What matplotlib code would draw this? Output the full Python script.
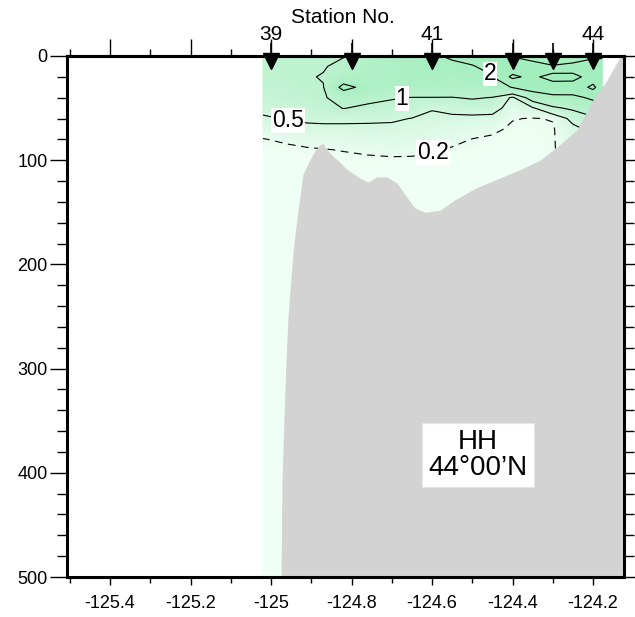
import numpy as np
import matplotlib
matplotlib.use("Agg")
import matplotlib.pyplot as plt
from matplotlib.colors import LinearSegmentedColormap
from matplotlib.ticker import FixedLocator, MultipleLocator

plt.rcParams['font.family'] = ['Liberation Sans', 'DejaVu Sans']

# ---------------- data ----------------
lon_grid = [-125.02, -124.96, -124.91, -124.87, -124.82, -124.76, -124.70, -124.65,
            -124.60, -124.55, -124.50, -124.45, -124.40, -124.35, -124.30, -124.25,
            -124.20, -124.177]
depth_grid = [0, 10, 20, 30, 40, 50, 60, 70, 80, 90, 100, 110, 130, 160, 200, 300, 500]

# chlorophyll-like values per column (top to bottom)
col00 = [0.90, 0.90, 0.88, 0.80, 0.70, 0.58, 0.46, 0.32, 0.19, 0.15, 0.13, 0.12, 0.11, 0.10, 0.10, 0.10, 0.10]
col01 = [0.90, 0.92, 0.92, 0.88, 0.78, 0.64, 0.52, 0.38, 0.24, 0.15, 0.13, 0.12, 0.11, 0.10, 0.10, 0.10, 0.10]
col02 = [0.90, 0.94, 0.96, 0.94, 0.85, 0.72, 0.56, 0.42, 0.30, 0.17, 0.13, 0.12, 0.11, 0.10, 0.10, 0.10, 0.10]
col03 = [0.88, 0.96, 1.03, 0.98, 0.92, 0.78, 0.58, 0.42, 0.30, 0.19, 0.14, 0.12, 0.11, 0.10, 0.10, 0.10, 0.10]
col04 = [0.97, 1.15, 1.35, 2.30, 1.35, 1.02, 0.58, 0.42, 0.30, 0.21, 0.15, 0.13, 0.11, 0.10, 0.10, 0.10, 0.10]
col05 = [1.30, 1.40, 1.55, 1.70, 1.18, 0.88, 0.57, 0.42, 0.33, 0.24, 0.16, 0.13, 0.11, 0.10, 0.10, 0.10, 0.10]
col06 = [1.50, 1.60, 1.65, 1.50, 1.05, 0.80, 0.55, 0.42, 0.34, 0.26, 0.17, 0.13, 0.11, 0.10, 0.10, 0.10, 0.10]
col07 = [1.70, 1.75, 1.80, 1.55, 0.98, 0.75, 0.49, 0.40, 0.32, 0.25, 0.17, 0.13, 0.11, 0.10, 0.10, 0.10, 0.10]
col08 = [1.90, 1.92, 1.85, 1.55, 0.98, 0.52, 0.44, 0.36, 0.29, 0.22, 0.16, 0.13, 0.11, 0.10, 0.10, 0.10, 0.10]
col09 = [2.10, 1.85, 1.55, 1.40, 0.98, 0.62, 0.42, 0.33, 0.25, 0.18, 0.14, 0.12, 0.11, 0.10, 0.10, 0.10, 0.10]
col10 = [2.30, 1.95, 1.75, 1.50, 1.05, 0.70, 0.40, 0.28, 0.195, 0.16, 0.13, 0.12, 0.11, 0.10, 0.10, 0.10, 0.10]
col11 = [2.20, 2.25, 1.95, 1.50, 0.98, 0.68, 0.38, 0.24, 0.17, 0.14, 0.12, 0.11, 0.10, 0.10, 0.10, 0.10, 0.10]
col12 = [1.90, 3.00, 5.60, 2.05, 0.42, 0.30, 0.21, 0.17, 0.15, 0.14, 0.12, 0.11, 0.10, 0.10, 0.10, 0.10, 0.10]
col13 = [1.80, 2.20, 4.20, 2.50, 1.30, 0.45, 0.19, 0.17, 0.16, 0.15, 0.13, 0.12, 0.11, 0.10, 0.10, 0.10, 0.10]
col14 = [1.60, 2.05, 6.50, 3.00, 1.60, 0.90, 0.21, 0.18, 0.18, 0.18, 0.18, 0.17, 0.15, 0.12, 0.10, 0.10, 0.10]
col15 = [1.70, 2.15, 6.50, 2.80, 1.70, 1.10, 0.62, 0.40, 0.35, 0.33, 0.32, 0.30, 0.28, 0.25, 0.20, 0.15, 0.12]
col16 = [1.85, 2.40, 3.00, 5.80, 2.20, 1.40, 0.90, 0.60, 0.45, 0.40, 0.40, 0.35, 0.30, 0.25, 0.20, 0.15, 0.12]
col17 = [1.90, 2.30, 2.60, 3.00, 2.20, 1.40, 0.98, 0.70, 0.52, 0.45, 0.45, 0.40, 0.35, 0.30, 0.20, 0.15, 0.12]
columns = [col00, col01, col02, col03, col04, col05, col06, col07, col08,
           col09, col10, col11, col12, col13, col14, col15, col16, col17]

contour_levels = [0.2, 0.5, 1, 2, 5]
label_levels = [0.2, 0.5, 1, 2]
label_spots = [(-124.598, 91), (-124.958, 64), (-124.675, 41), (-124.456, 18)]

# bottom topography (lon, depth)
bathy_lon = [-124.975, -124.973, -124.965, -124.958, -124.945, -124.932, -124.921, -124.908,
             -124.891, -124.878, -124.871, -124.861, -124.841, -124.834, -124.811, -124.779,
             -124.759, -124.737, -124.712, -124.687, -124.667, -124.642, -124.617, -124.580,
             -124.543, -124.493, -124.431, -124.381, -124.332, -124.282, -124.240, -124.200,
             -124.165, -124.133, -124.110]
bathy_depth = [500, 410, 314, 250, 186, 145, 114, 103,
               91, 85, 84, 90, 98, 100, 109, 117,
               121, 116, 116, 122, 133, 146, 150, 148,
               138, 127, 117, 109, 100, 85, 71, 42,
               23, 1, 0]

stations_lon = [-125.0, -124.8, -124.6, -124.4, -124.3, -124.2]
stations_no = ['39', '', '41', '', '', '44']

x_ticks = [-125.4, -125.2, -125.0, -124.8, -124.6, -124.4, -124.2]
x_labels = ['-125.4', '-125.2', '-125', '-124.8', '-124.6', '-124.4', '-124.2']
y_ticks = [0, 100, 200, 300, 400, 500]
y_labels = ['0', '100', '200', '300', '400', '500']

# ---------------- figure ----------------
fig = plt.figure(figsize=(6.35, 6.17), dpi=100)
ax = fig.add_axes([67/635, 1-577/617, (624-67)/635, (577-56)/617])

Lon, Dep = np.meshgrid(lon_grid, depth_grid)
Z = np.array(columns).T

cmap = LinearSegmentedColormap.from_list(
    'chl', ['#f0fff5', '#dcf9e6', '#bff3d0', '#a2eebd'])
ax.pcolormesh(Lon, Dep, np.log10(Z), shading='gouraud', cmap=cmap,
              vmin=np.log10(0.15), vmax=np.log10(2.3), zorder=0)

cs = ax.contour(Lon, Dep, Z, levels=contour_levels, colors='k', linewidths=0.8,
                linestyles=[(0, (7, 5)), 'solid', 'solid', 'solid', 'solid'], zorder=1)

ax.fill_between(bathy_lon, bathy_depth, 500, color='#d3d3d3', lw=0, zorder=2)

labels = ax.clabel(cs, levels=label_levels, manual=label_spots, inline=False,
                   fontsize=16.5, fmt={0.2: '0.2', 0.5: '0.5', 1: '1', 2: '2'}, zorder=4)
for t in labels:
    t.set_rotation(0)
    t.set_bbox(dict(facecolor='white', edgecolor='none', pad=0.6))

ax.set_xlim(-125.507, -124.123)
ax.set_ylim(500, 0)

# ticks
ax.xaxis.set_major_locator(FixedLocator(x_ticks))
ax.set_xticklabels(x_labels)
ax.xaxis.set_minor_locator(MultipleLocator(0.1))
ax.set_yticks(y_ticks)
ax.set_yticklabels(y_labels)
ax.yaxis.set_minor_locator(MultipleLocator(20))
ax.tick_params(axis='x', which='major', direction='out', length=6, width=1.0,
               labelsize=13, pad=7)
ax.tick_params(axis='x', which='minor', direction='out', length=4, width=1.0)
ax.tick_params(axis='y', which='major', direction='out', length=12, width=1.0,
               labelsize=13, pad=2, right=True)
ax.tick_params(axis='y', which='minor', direction='out', length=7, width=1.0, right=True)

top = ax.secondary_xaxis('top')
top.xaxis.set_major_locator(FixedLocator(x_ticks))
top.xaxis.set_minor_locator(MultipleLocator(0.1))
top.tick_params(axis='x', which='major', direction='out', length=12, width=1.0,
                labeltop=False)
top.tick_params(axis='x', which='minor', direction='out', length=5, width=1.0)
for s in top.spines.values():
    s.set_linewidth(2.2)

for s in ax.spines.values():
    s.set_linewidth(2.2)
    s.set_zorder(6)

# station markers
xt = ax.get_xaxis_transform()
ax.vlines(stations_lon, 1.0, 1.025, colors='k', linewidth=1.2, transform=xt,
          clip_on=False, zorder=7)
ax.plot(stations_lon, [0.9895] * len(stations_lon), 'v', color='k', ms=11,
        transform=xt, clip_on=False, zorder=7)
for lon, lab in zip(stations_lon, stations_no):
    if lab:
        ax.text(lon, 1.041, lab, transform=xt, ha='center', va='center', fontsize=15)
ax.text(0.4955, 1.074, 'Station No.', transform=ax.transAxes, ha='center',
        va='center', fontsize=15)

ax.text(-124.486, 383, 'HH\n44\u00b000\u2019N', ha='center', va='center',
        fontsize=20, linespacing=1.0, zorder=5,
        bbox=dict(boxstyle='square,pad=0.22', facecolor='white', edgecolor='#e6e6e6',
                  linewidth=0.8))

fig.savefig('out.png', dpi=100)
